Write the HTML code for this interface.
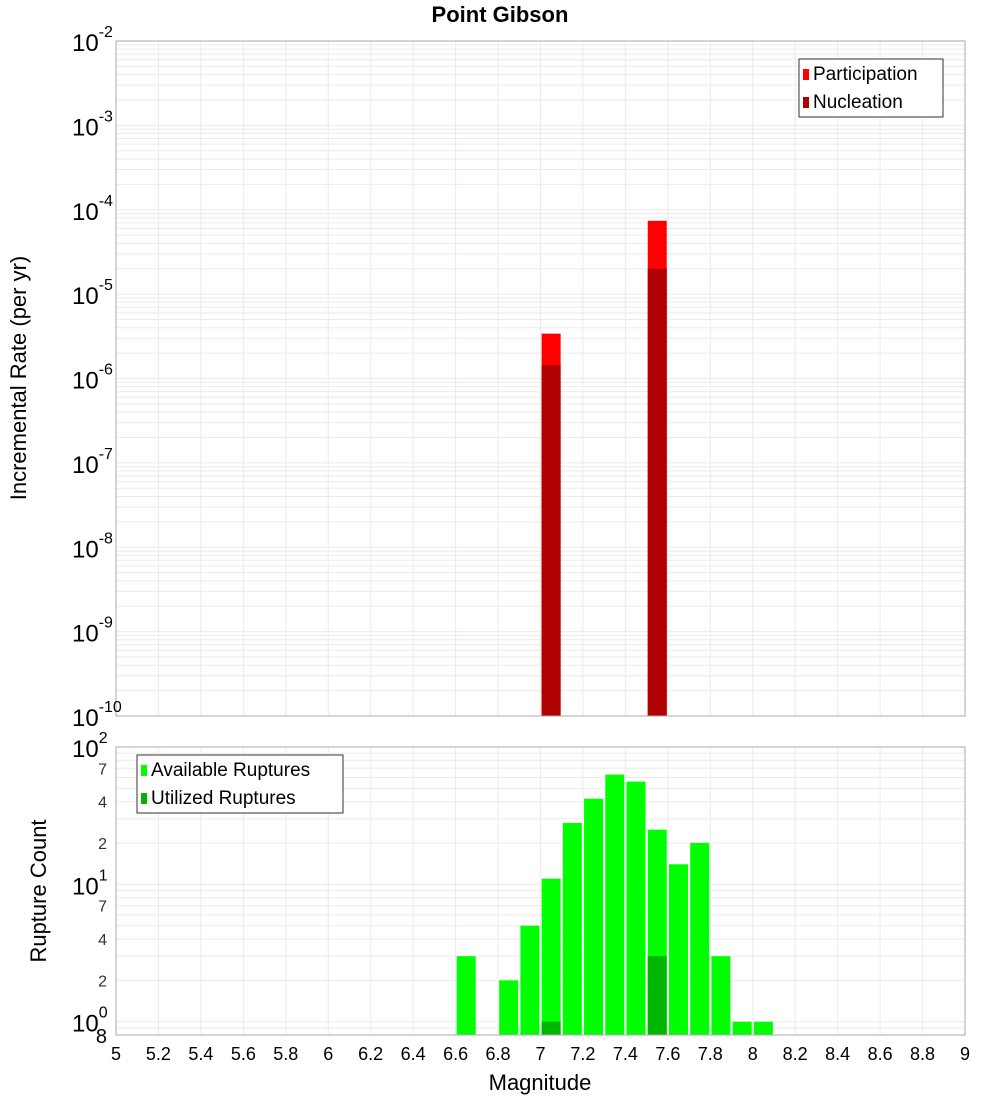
<!DOCTYPE html>
<html><head><meta charset="utf-8"><style>
body{margin:0;background:#fff;font-family:"Liberation Sans","DejaVu Sans",sans-serif}
svg{display:block}
</style></head><body>
<svg id="c" width="1000" height="1100" xmlns="http://www.w3.org/2000/svg"></svg>
<script>
const mags=[6.65,6.85,6.95,7.05,7.15,7.25,7.35,7.45,7.55,7.65,7.75,7.85,7.95,8.05];
const available=[3,2,5,11,28,42,63,56,25,14,20,3,1,1];
const utilMags=[7.05,7.55];
const utilized=[1,3];
const rateMags=[7.05,7.55];
const participation=[3.4e-6,7.4e-5];
const nucleation=[1.45e-6,2.0e-5];
const xTicks=[5,5.2,5.4,5.6,5.8,6,6.2,6.4,6.6,6.8,7,7.2,7.4,7.6,7.8,8,8.2,8.4,8.6,8.8,9];

const NS="http://www.w3.org/2000/svg";
const svgRoot=document.getElementById('c');
function el(t,a,p){const e=document.createElementNS(NS,t);for(const k in a)e.setAttribute(k,a[k]);(p||svgRoot).appendChild(e);return e;}
const L=116,R=965;
const x=v=>L+(v-5)*(R-L)/4;
const T1=41,B1=716;
const y1=v=>T1+(-2-Math.log10(v))*(B1-T1)/8;
const T2=747,B2=1035;
const y2=v=>T2+(2-Math.log10(v))*(B2-T2)/(2-Math.log10(0.8));
const bw=19;

function grid(T,B,yf,decs){
  const g=el('g',{});
  
  
  for(const d of decs)for(let m=1;m<10;m++){const v=m*Math.pow(10,d);const yy=yf(v);if(yy<T-0.5||yy>B+0.5)continue;
    el('line',{x1:L,x2:R,y1:yy,y2:yy,stroke:'#ebebeb','stroke-width':1},g);}
  for(const t of xTicks)el('line',{x1:x(t),x2:x(t),y1:T,y2:B,stroke:'#ebebeb','stroke-width':1},g);
}
grid(T1,B1,y1,[-10,-9,-8,-7,-6,-5,-4,-3,-2]);
grid(T2,B2,y2,[-1,0,1,2]);

const rateGroup=el('g',{});


rateMags.forEach((m,i)=>{
  const r=el('rect',{x:x(m)-bw/2,y:y1(participation[i]),width:bw,height:B1-y1(participation[i]),fill:'#ff0000'},rateGroup);
  
  
  const n=el('rect',{x:x(m)-bw/2,y:y1(nucleation[i]),width:bw,height:B1-y1(nucleation[i]),fill:'#b00000'},rateGroup);
  
  
});
const ruptureGroup=el('g',{});


mags.forEach((m,i)=>{
  const r=el('rect',{x:x(m)-bw/2,y:y2(available[i]),width:bw,height:B2-y2(available[i]),fill:'#00ff00'},ruptureGroup);
  
  
});
utilMags.forEach((m,i)=>{
  const r=el('rect',{x:x(m)-bw/2,y:y2(utilized[i]),width:bw,height:B2-y2(utilized[i]),fill:'#00b400'},ruptureGroup);
  
  
});

el('rect',{x:L,y:T1,width:R-L,height:B1-T1,fill:'none',stroke:'#aaa'});
el('rect',{x:L,y:T2,width:R-L,height:B2-T2,fill:'none',stroke:'#aaa'});

function txt(s,a,name){const t=el('text',a);t.textContent=s;return t;}
for(let d=-10;d<=-2;d++){
  const yy=y1(Math.pow(10,d));
  const t=txt('10',{x:72,y:yy+10,'font-size':24,fill:'#000'},'y-tick-label');
  const s=el('tspan',{dy:-14,'font-size':16},t);s.textContent=String(d);
}
[[100,'2'],[10,'1'],[1,'0']].forEach(([v,e])=>{
  const yy=y2(v);
  const t=txt('10',{x:72,y:yy+10,'font-size':24,fill:'#000'},'y2-tick-label');
  const s=el('tspan',{dy:-14,'font-size':16},t);s.textContent=e;
});
[70,40,20,7,4,2].forEach(v=>txt(String(v).charAt(0),{x:107,y:y2(v)+6,'font-size':16,fill:'#333','text-anchor':'end'},'y2-minor-label'));
txt('8',{x:107,y:y2(0.8)+8,'font-size':20,fill:'#000','text-anchor':'end'},'y2-minor-label');
xTicks.forEach(t=>txt(String(t),{x:x(t),y:1060,'font-size':18,fill:'#000','text-anchor':'middle'},'x-tick-label'));
txt('Magnitude',{x:540,y:1090,'font-size':22,fill:'#000','text-anchor':'middle'},'x-axis-title');
txt('Incremental Rate (per yr)',{x:26,y:378,'font-size':22,fill:'#000','text-anchor':'middle',transform:'rotate(-90 26 378)'},'y-axis-title');
txt('Rupture Count',{x:46,y:891,'font-size':22,fill:'#000','text-anchor':'middle',transform:'rotate(-90 46 891)'},'y2-axis-title');
txt('Point Gibson',{x:500,y:22,'font-size':22,'font-weight':'bold',fill:'#000','text-anchor':'middle'},'chart-title');

function legend(xx,yy,w,h,items,name){
  const g=el('g',{});
  
  
  el('rect',{x:xx,y:yy,width:w,height:h,fill:'#fff',stroke:'#333'},g);
  items.forEach(([c,l],i)=>{
    el('rect',{x:xx+4,y:yy+10+i*28,width:6,height:11,fill:c},g);
    const t=el('text',{x:xx+14,y:yy+21+i*28,'font-size':19,fill:'#000'},g);t.textContent=l;
  });
}
legend(799,59,144,58,[['#ff0000','Participation'],['#b00000','Nucleation']],'rate-legend');
legend(137,755,206,58,[['#00ff00','Available Ruptures'],['#00b400','Utilized Ruptures']],'rupture-legend');
</script>
</body></html>
